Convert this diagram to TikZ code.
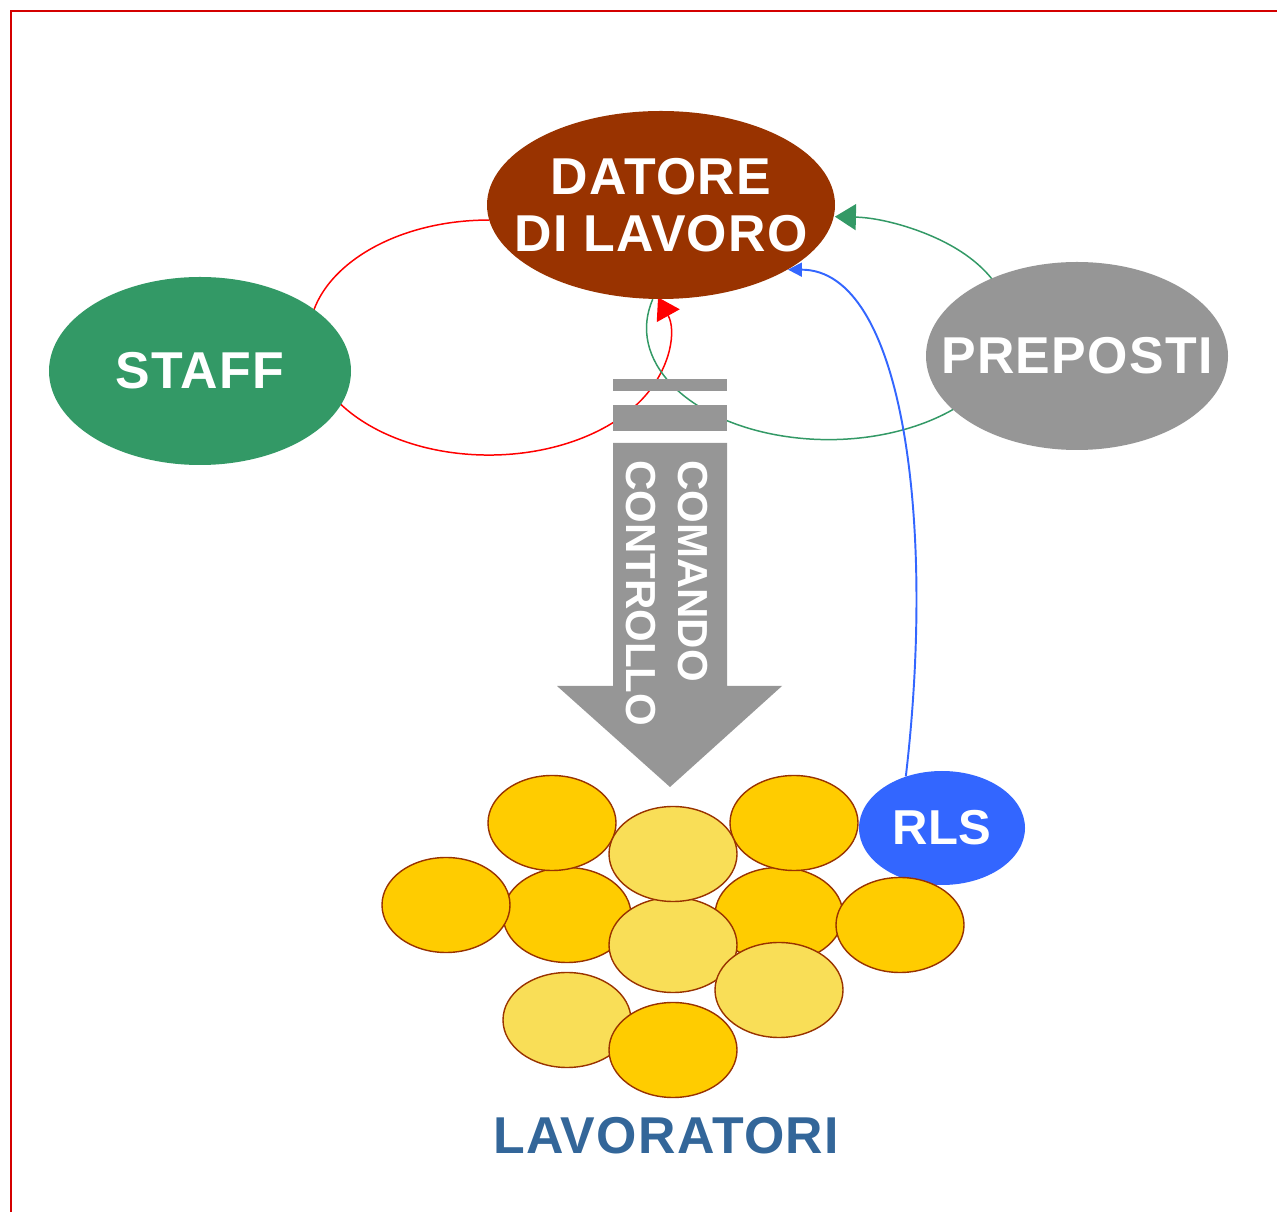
\documentclass[tikz,border=0pt]{standalone}
\usepackage{fontspec}
\setmainfont{Liberation Sans}
\usetikzlibrary{
    arrows.meta,
    shapes.geometric,
    backgrounds
}
\definecolor{brick}{HTML}{993300}
\definecolor{staffgreen}{HTML}{339966}
\definecolor{greyish}{HTML}{969696}
\definecolor{rlsblue}{HTML}{3366FF}
\definecolor{steel}{HTML}{336699}
\definecolor{gold}{HTML}{FFCC00}
\definecolor{palegold}{HTML}{F9DE57}
\definecolor{framered}{HTML}{D40000}
\tikzset{
    % Shapes
    blob/.style={ellipse,inner sep=0pt,minimum width=#1,minimum height=3.76cm},
    worker/.style={ellipse,draw=brick,line width=0.8pt,inner sep=0pt,minimum width=2.56cm,minimum height=1.9cm},
    %
    % Texts
    big label/.style={text=white,inner sep=0pt,align=center,font=\bfseries\fontsize{29.5}{32.5}\selectfont\addfontfeatures{LetterSpace=2.5}},
    arrow label/.style={text=white,inner sep=0pt,align=left,font=\bfseries\fontsize{23.9}{29.6}\selectfont},
    %
    % Arrows
    arrow tip/.tip={Triangle[length=0.42cm,width=0.52cm]},
    small tip/.tip={Triangle[length=0.28cm,width=0.28cm]},
    arr/.style={-{arrow tip}},
    sarr/.style={-{small tip}}
}

\begin{document}
\begin{tikzpicture}
    \useasboundingbox (0,0) rectangle (25.54,24.24);
    \draw[framered, line width=0.05cm] (0.22,0) -- (0.22,24.02) -- (25.54,24.02);

    \node[blob=6.96cm, fill=brick] (datore) at (13.22,20.14) {};
    \node[blob=6.04cm, fill=staffgreen] (staff) at (4.00,16.82) {};
    \node[blob=6.04cm, fill=greyish] (preposti) at (21.54,17.12) {};
    \node[ellipse, inner sep=0pt, minimum width=3.32cm, minimum height=2.28cm, fill=rlsblue] (rls) at (18.84,7.68) {};

    \node[big label] (datore text) at (datore) {DATORE\\DI LAVORO};
    \node[big label] (staff text) at (staff) {STAFF};
    \node[big label] (preposti text) at (preposti) {PREPOSTI};
    \node[big label, font=\bfseries\fontsize{27.9}{30}\selectfont] (rls text) at (rls) {RLS};

    \begin{scope}[on background layer]
        \draw[red, line width=0.85pt, arr] (datore.185) arc[start angle=90, end angle=380, x radius=3.6cm, y radius=2.35cm];
        \draw[staffgreen, line width=0.85pt, arr] (datore.265) arc[start angle=165, end angle=448, x radius=3.64cm, y radius=2.23cm];
        \draw[rlsblue, line width=1.1pt, sarr] (rls.125) .. controls +(0.6,5.1) and +(2.3,0) .. (datore.-27);
    \end{scope}

    % comando / controllo
    \fill[greyish] (12.26,16.42) rectangle (14.54,16.66);
    \fill[greyish] (12.26,15.62) rectangle (14.54,16.14);
    \fill[greyish] (12.26,15.38) -- (14.54,15.38) -- (14.54,10.52) -- (15.64,10.52) -- (13.40,8.50) -- (11.14,10.52) -- (12.26,10.52) -- cycle;
    \node[arrow label, rotate=-90, anchor=west] (comando) at (13.34,15.04) {COMANDO\\CONTROLLO};

    % lavoratori
    \foreach \px/\py/\shade [count=\i] in {11.34/5.94/gold, 15.58/5.94/gold, 11.04/7.78/gold, 15.88/7.78/gold, 8.92/6.14/gold, 18.00/5.74/gold, 13.46/5.34/palegold, 13.46/7.16/palegold, 15.58/4.44/palegold, 11.34/3.84/palegold, 13.46/3.24/gold}
        \node[worker, fill=\shade] (w\i) at (\px,\py) {};
    \node[big label, text=steel] (lavoratori) at (13.32,1.52) {LAVORATORI};
\end{tikzpicture}
\end{document}
